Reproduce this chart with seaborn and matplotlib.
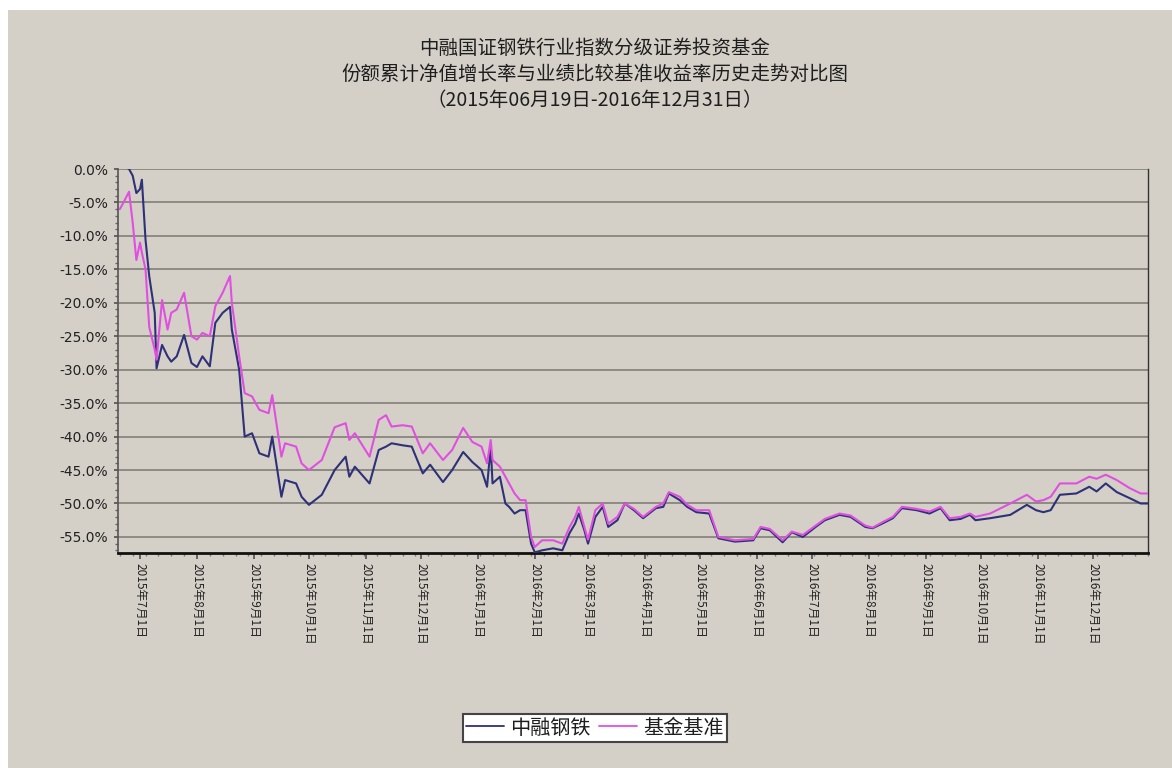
import matplotlib
matplotlib.use("Agg")
import matplotlib.pyplot as plt
import matplotlib.dates as mdates
import matplotlib.ticker as mticker
from matplotlib.patches import Rectangle
from matplotlib.lines import Line2D
import numpy as np
import pandas as pd
import seaborn as sns

# ---- data ----
start_date = "2015-06-19"
end_date = "2016-12-31"
day_offsets = [1, 3, 6, 8, 10, 12, 13, 15, 17, 20, 21, 24, 27, 29, 32, 36, 40, 43, 46, 50,
               53, 57, 61, 62, 66, 69, 73, 77, 82, 84, 89, 91, 97, 100, 104, 111, 118, 124,
               126, 129, 137, 142, 146, 149, 155, 160, 166, 170, 177, 182, 188, 193, 198,
               201, 203, 204, 208, 211, 213, 216, 219, 222, 225, 227, 231, 237, 242, 246,
               249, 251, 254, 256, 260, 264, 267, 272, 276, 281, 286, 293, 297, 300, 306,
               310, 315, 322, 327, 336, 346, 350, 355, 362, 367, 373, 380, 385, 393, 399,
               407, 411, 417, 422, 427, 435, 442, 448, 453, 459, 464, 467, 475, 486, 495,
               500, 504, 508, 513, 522, 529, 533, 538, 544, 551, 557, 561]
fund = [1.0, 0.5, 0.0, -1.0, -3.6, -3.0, -1.6, -10.6, -16.0, -21.5, -29.8, -26.3, -28.0,
        -28.8, -28.0, -24.8, -29.0, -29.6, -28.0, -29.5, -23.0, -21.5, -20.6, -24.0, -30.0,
        -40.0, -39.5, -42.5, -43.0, -40.0, -49.0, -46.5, -47.0, -49.0, -50.2, -48.7, -45.0,
        -43.0, -46.0, -44.5, -47.0, -42.0, -41.5, -41.0, -41.3, -41.5, -45.5, -44.2, -46.8,
        -45.0, -42.3, -43.8, -45.0, -47.5, -41.5, -47.0, -46.0, -50.0, -50.5, -51.5, -51.0,
        -51.0, -56.0, -57.3, -57.0, -56.7, -57.0, -54.4, -53.0, -51.5, -54.0, -56.0, -52.0,
        -50.5, -53.5, -52.5, -50.0, -51.0, -52.2, -50.7, -50.5, -48.5, -49.5, -50.5, -51.3,
        -51.5, -55.2, -55.7, -55.5, -53.7, -54.0, -55.8, -54.3, -55.0, -53.5, -52.5, -51.7,
        -52.0, -53.5, -53.7, -52.9, -52.2, -50.7, -51.0, -51.5, -50.7, -52.5, -52.3, -51.7,
        -52.5, -52.2, -51.7, -50.2, -51.0, -51.3, -51.0, -48.7, -48.5, -47.5, -48.2, -47.0,
        -48.3, -49.2, -50.0, -50.0]
bench = [-6.0, -5.0, -3.4, -8.0, -13.6, -11.0, -12.5, -15.0, -23.6, -27.0, -28.5, -19.6,
         -24.0, -21.5, -21.0, -18.5, -25.0, -25.5, -24.5, -25.0, -20.5, -18.5, -16.0, -20.0,
         -28.0, -33.5, -34.0, -36.0, -36.5, -33.8, -43.0, -41.0, -41.5, -44.0, -45.0, -43.5,
         -38.6, -38.0, -40.5, -39.5, -43.0, -37.5, -36.8, -38.5, -38.3, -38.5, -42.5, -41.0,
         -43.5, -42.0, -38.7, -40.8, -41.5, -44.0, -40.5, -43.5, -44.5, -46.0, -47.0, -48.5,
         -49.5, -49.5, -55.0, -56.5, -55.5, -55.5, -56.0, -53.5, -52.0, -50.5, -53.5, -55.4,
         -51.0, -50.0, -53.0, -52.0, -50.0, -50.8, -52.0, -50.5, -50.0, -48.3, -49.0, -50.2,
         -51.0, -51.0, -55.0, -55.5, -55.3, -53.5, -53.8, -55.5, -54.2, -54.7, -53.3, -52.3,
         -51.5, -51.8, -53.3, -53.6, -52.7, -52.0, -50.5, -50.8, -51.2, -50.5, -52.2, -52.0,
         -51.5, -52.0, -51.5, -50.0, -48.7, -49.7, -49.5, -49.0, -47.0, -47.0, -46.0, -46.3,
         -45.7, -46.5, -47.7, -48.5, -48.5]
series_names = ["中融钢铁", "基金基准"]
title_lines = ["中融国证钢铁行业指数分级证券投资基金",
               "份额累计净值增长率与业绩比较基准收益率历史走势对比图",
               "（2015年06月19日-2016年12月31日）"]
month_ticks = pd.date_range("2015-07-01", "2016-12-01", freq="MS")
y_ticks = [0, -5, -10, -15, -20, -25, -30, -35, -40, -45, -50, -55]

dates = pd.to_datetime(start_date) + pd.to_timedelta(day_offsets, unit="D")
df = pd.concat([
    pd.DataFrame({"date": dates, "value": fund, "series": series_names[0]}),
    pd.DataFrame({"date": dates, "value": bench, "series": series_names[1]}),
])

# ---- style ----
sns.set_theme(style="white")
plt.rcParams["font.family"] = ["Noto Sans CJK SC", "DejaVu Sans"]
BG = "#D4D0C8"
GRID = "#8E8A84"
colors = {"中融钢铁": "#2E3178", "基金基准": "#E050E0"}

W, H = 1172, 768
fig = plt.figure(figsize=(W / 100, H / 100), dpi=100, facecolor="white")
fig.patches.append(Rectangle((8 / W, 0), 1 - 8 / W, 1 - 10 / H, transform=fig.transFigure,
                             facecolor=BG, edgecolor="none", zorder=-10))

ax = fig.add_axes([118 / W, 1 - 553 / H, (1148 - 118) / W, (553 - 169) / H])
ax.set_facecolor(BG)

sns.lineplot(data=df, x="date", y="value", hue="series", palette=colors, ax=ax,
             linewidth=1.5, legend=False, zorder=3)

ax.set_xlim(pd.to_datetime(start_date), pd.to_datetime(end_date))
ax.set_ylim(-57.4, 0)

ax.set_yticks(y_ticks)
ax.yaxis.set_major_formatter(mticker.FuncFormatter(lambda v, p: f"{v:.1f}%"))
ax.yaxis.set_minor_locator(mticker.MultipleLocator(1))
ax.set_xticks(month_ticks)
ax.set_xticklabels([f"{d.year}年{d.month}月1日" for d in month_ticks], rotation=270,
                   fontsize=8.5, va="top", ha="center", color="#222222")
ax.xaxis.set_minor_locator(mdates.DayLocator(interval=7))
ax.tick_params(axis="y", which="major", length=3, labelsize=10, color="#555555", pad=4)
ax.tick_params(axis="y", which="minor", length=2, color="#666666")
ax.tick_params(axis="x", which="major", length=4, color="#555555", pad=3)
ax.tick_params(axis="x", which="minor", length=2, color="#777777")
ax.tick_params(left=True, bottom=True, which="both")
for lbl in ax.get_yticklabels():
    lbl.set_family(["DejaVu Sans"])
    lbl.set_color("#222222")

ax.grid(axis="y", color=GRID, linewidth=1.4, zorder=1)
ax.set_axisbelow(True)
ax.set_xlabel("")
ax.set_ylabel("")
ax.spines["top"].set_visible(False)
ax.spines["left"].set_color("#555555")
ax.spines["left"].set_linewidth(1.2)
ax.spines["right"].set_color("#333333")
ax.spines["right"].set_linewidth(1.0)
ax.spines["bottom"].set_color("#111111")
ax.spines["bottom"].set_linewidth(2.0)

# ---- title ----
for i, t in enumerate(title_lines):
    fig.text(595 / W, 1 - (48 + i * 26) / H, t, ha="center", va="center",
             fontsize=14, color="#1E1E1E")

# ---- legend ----
handles = [Line2D([], [], color=colors[n], linewidth=1.3) for n in series_names]
leg = fig.legend(handles, series_names, loc="center", bbox_to_anchor=(595 / W, 1 - 728 / H),
                 ncol=2, frameon=True, fancybox=False, edgecolor="#444444",
                 facecolor="white", framealpha=1, fontsize=14.5, handlelength=1.9,
                 handletextpad=0.3, columnspacing=0.4, borderpad=0.15, borderaxespad=0)
leg.get_frame().set_linewidth(1.5)
for t in leg.get_texts():
    t.set_color("#1E1E1E")

fig.savefig("out.png", dpi=100, facecolor=fig.get_facecolor())
